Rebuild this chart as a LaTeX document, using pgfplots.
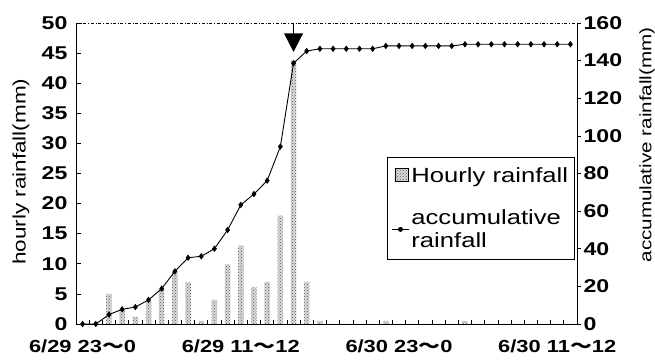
\documentclass[border=0pt]{standalone}
\usepackage{fontspec}
\setmainfont{Liberation Sans}[FakeStretch=1.25]
\newfontfamily\cjk{Noto Sans CJK JP}[FakeStretch=1.25]
\usepackage{pgfplots}
\usepackage{pgfplotstable}
\pgfplotsset{compat=1.18}
\usetikzlibrary{patterns}
\newcommand{\wavedash}{{\cjk 〜}}

\pgfplotstableread{
x h c
0 0 0
1 0 0
2 5 5
3 2.3 7.8
4 1.2 9
5 3.8 12.8
6 5.8 18.8
7 8.7 28
8 6.9 35.2
9 0.5 36
10 4 40
11 9.9 50
12 13 63.3
13 6.1 69.1
14 7 76.2
15 18 94.3
16 43.8 138.6
17 7 145.1
18 0.5 146.3
19 0 146.3
20 0 146.3
21 0 146.3
22 0 146.3
23 0.5 147.8
24 0 147.8
25 0 147.8
26 0 147.8
27 0 147.8
28 0 147.8
29 0.5 148.7
30 0 148.7
31 0 148.7
32 0 148.7
33 0 148.7
34 0 148.7
35 0 148.7
36 0 148.7
37 0 148.7
}\data

\tikzset{rainbar/.style={fill=gray!30, postaction={pattern=crosshatch dots, pattern color=black!65}}}

\begin{document}
\begin{tikzpicture}
\begin{axis}[
  scale only axis, width=501pt, height=301pt,
  xmin=-0.5, xmax=37.5, ymin=0, ymax=50,
  axis x line*=bottom, axis y line*=left,
  axis line style={line width=0.8pt, -},
  tick align=inside,
  xtick={0,12,24,36},
  xticklabels={6/29 23\wavedash 0, 6/29 11\wavedash 12, 6/30 23\wavedash 0, 6/30 11\wavedash 12},
  major x tick style={draw=none},
  minor xtick={0.5,1.5,...,36.5},
  minor tick length=4pt,
  major tick length=5pt,
  tick style={line width=0.7pt, black},
  ytick={0,5,...,50},
  /pgf/number format/assume math mode=true,
  x tick label style={font=\fontsize{17.5}{20}\selectfont\bfseries, yshift=-12pt},
  y tick label style={font=\fontsize{18.5}{20}\selectfont\bfseries, xshift=-5pt},
  ylabel={hourly rainfall(mm)},
  ylabel style={font=\fontsize{18}{20}\selectfont, at={(axis description cs:-0.11,0.506)}, anchor=center},
  clip=false,
]
\addplot[ybar, bar width=5.5pt, bar shift=0pt, draw=none, rainbar] table[x=x,y=h]{\data};
\draw[dash dot, line width=0.6pt] (rel axis cs:0,1) -- (rel axis cs:1,1);
\end{axis}
\begin{axis}[
  scale only axis, width=501pt, height=301pt,
  xmin=-0.5, xmax=37.5, ymin=0, ymax=160,
  axis x line=none, axis y line*=right,
  axis line style={line width=0.8pt, -},
  tick align=outside,
  major tick length=4pt,
  tick style={line width=0.7pt, black},
  ytick={0,20,...,160},
  /pgf/number format/assume math mode=true,
  y tick label style={font=\fontsize{18.5}{20}\selectfont\bfseries, xshift=-1pt},
  ylabel={accumulative rainfall(mm)},
  ylabel style={font=\fontsize{16.5}{18}\selectfont, at={(axis description cs:1.14,0.595)}, anchor=center, rotate=0},
  legend cell align=left,
  legend style={at={(axis description cs:0.621,0.555)}, anchor=north west,
    font=\fontsize{20.5}{23}\selectfont, draw=black, line width=0.8pt,
    cells={align=left}, row sep=22pt, inner xsep=4pt, inner ysep=8pt},
  clip=false,
]
\addlegendimage{legend image code/.code={\fill[rainbar] (3pt,-6pt) rectangle (16pt,7pt);}}
\addlegendentry{Hourly rainfall}
\addplot[black, line width=0.9pt, mark=diamond*, mark size=2.5pt,
  legend image code/.code={\draw[black, line width=0.9pt] (0pt,0pt) -- (17pt,0pt); \fill[black] (8.5pt,0pt) circle (2pt);}] table[x=x,y=c]{\data};
\addlegendentry{accumulative\\rainfall}
\draw[line width=1.5pt] (axis cs:16,160) -- (axis cs:16,154);
\fill (axis cs:16,144.6) -- ++(-9.5pt,18.5pt) -- ++(19pt,0pt) -- cycle;
\end{axis}
\pgfresetboundingbox
\path[use as bounding box] ([shift={(-76pt,-37pt)}]current axis.south west) rectangle ([shift={(78pt,23pt)}]current axis.north east);
\end{tikzpicture}
\end{document}
